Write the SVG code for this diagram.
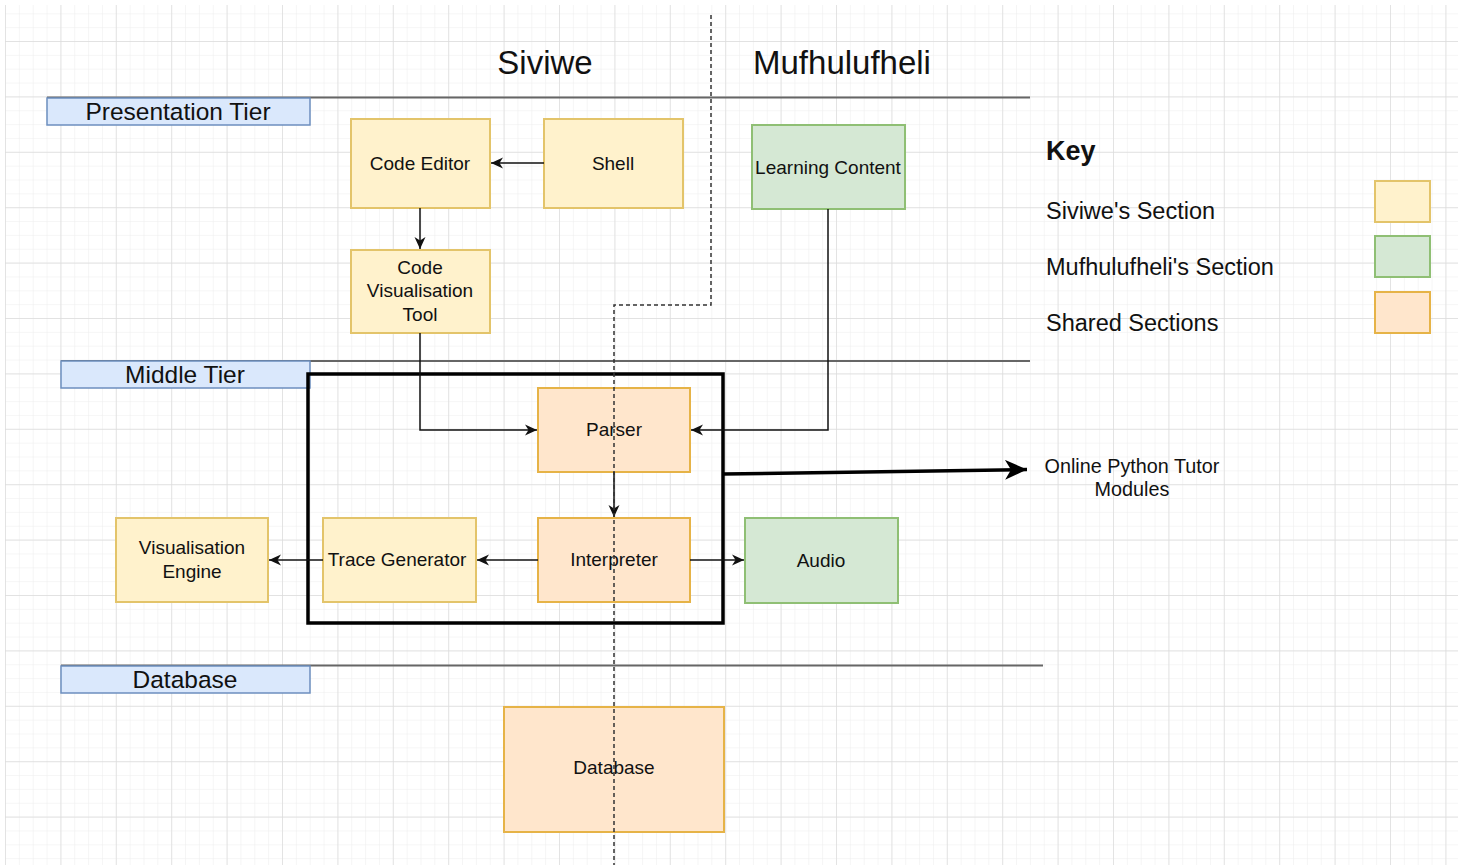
<svg xmlns="http://www.w3.org/2000/svg" width="1461" height="865" viewBox="0 0 1461 865">
<defs>
<pattern id="minor" patternUnits="userSpaceOnUse" x="5" y="41" width="13.85" height="13.85">
<path d="M0,0 V13.85 M0,0 H13.85" fill="none" stroke="#eeeeee" stroke-width="1.2"/>
</pattern>
<pattern id="major" patternUnits="userSpaceOnUse" x="5" y="41" width="55.4" height="55.4">
<path d="M0,0 V55.4 M0,0 H55.4" fill="none" stroke="#dcdcdc" stroke-width="1.4"/>
</pattern>
<marker id="arr" markerUnits="userSpaceOnUse" markerWidth="14" markerHeight="12" refX="12" refY="6" orient="auto">
<path d="M0,0.5 L12,6 L0,11.5 L3.5,6 Z" fill="#111"/>
</marker>
<marker id="big" markerUnits="userSpaceOnUse" markerWidth="24" markerHeight="20" refX="22" refY="10" orient="auto">
<path d="M0,0 L22,10 L0,20 L6,10 Z" fill="#000"/>
</marker>
</defs>
<style>
.t{font-family:"Liberation Sans",Arial,sans-serif;fill:#111;text-anchor:middle}
.n{font-size:19px}
.tier{fill:#dae8fc;stroke:#6c8ebf;stroke-width:1.5}
.tl{font-size:24.5px}
.yel{fill:#fff2cc;stroke:#e3c46a;stroke-width:2}
.grn{fill:#d5e8d4;stroke:#8fbf74;stroke-width:2}
.org{fill:#ffe6cc;stroke:#e6b347;stroke-width:2}
.sep{stroke:#666;stroke-width:2;fill:none}
.c{fill:none;stroke:#111;stroke-width:1.5;marker-end:url(#arr)}
.k{font-family:"Liberation Sans",Arial,sans-serif;fill:#111;font-size:23.5px}
</style>
<rect x="0" y="0" width="1461" height="865" fill="#ffffff"/>
<rect x="5" y="5" width="1453" height="860" fill="url(#minor)"/>
<rect x="5" y="5" width="1453" height="860" fill="url(#major)"/>

<g id="headers">
<text class="t" x="545" y="74" font-size="33">Siviwe</text>
<text class="t" x="842" y="74" font-size="33">Mufhulufheli</text>
</g>

<g id="tier-lines">
<line class="sep" x1="47" y1="97.5" x2="1030" y2="97.5"/>
<line class="sep" x1="61" y1="361" x2="1030" y2="361"/>
<line class="sep" x1="61" y1="665.5" x2="1043" y2="665.5"/>
</g>

<g id="presentation-tier">
<rect class="tier" x="47" y="98" width="263" height="27"/>
<text class="t tl" x="178" y="120">Presentation Tier</text>
</g>
<g id="middle-tier">
<rect class="tier" x="61" y="361" width="249" height="27"/>
<text class="t tl" x="185" y="383">Middle Tier</text>
</g>
<g id="database-tier">
<rect class="tier" x="61" y="666" width="249" height="27"/>
<text class="t tl" x="185" y="688">Database</text>
</g>

<g id="code-editor">
<rect class="yel" x="351" y="119" width="139" height="89"/>
<text class="t n" x="420" y="170">Code Editor</text>
</g>
<g id="shell">
<rect class="yel" x="544" y="119" width="139" height="89"/>
<text class="t n" x="613" y="170">Shell</text>
</g>
<g id="code-visualisation-tool">
<rect class="yel" x="351" y="250" width="139" height="83"/>
<text class="t n" x="420" y="274">Code</text>
<text class="t n" x="420" y="297">Visualisation</text>
<text class="t n" x="420" y="321">Tool</text>
</g>
<g id="learning-content">
<rect class="grn" x="752" y="125" width="153" height="84"/>
<text class="t n" x="828" y="174">Learning Content</text>
</g>

<g id="module-boundary">
<rect x="308" y="374" width="415" height="249" fill="none" stroke="#000" stroke-width="3.5"/>
</g>

<g id="parser">
<rect class="org" x="538" y="388" width="152" height="84"/>
<text class="t n" x="614" y="436">Parser</text>
</g>
<g id="interpreter">
<rect class="org" x="538" y="518" width="152" height="84"/>
<text class="t n" x="614" y="566">Interpreter</text>
</g>
<g id="trace-generator">
<rect class="yel" x="323" y="518" width="153" height="84"/>
<text class="t n" x="397" y="566">Trace Generator</text>
</g>
<g id="visualisation-engine">
<rect class="yel" x="116" y="518" width="152" height="84"/>
<text class="t n" x="192" y="554">Visualisation</text>
<text class="t n" x="192" y="578">Engine</text>
</g>
<g id="audio">
<rect class="grn" x="745" y="518" width="153" height="85"/>
<text class="t n" x="821" y="567">Audio</text>
</g>
<g id="database">
<rect class="org" x="504" y="707" width="220" height="125"/>
<text class="t n" x="614" y="774">Database</text>
</g>

<g id="online-python-tutor">
<text class="t" font-size="19.8" x="1132" y="473">Online Python Tutor</text>
<text class="t" font-size="19.8" x="1132" y="496">Modules</text>
</g>

<g id="connectors">
<path class="c" d="M544,163 H491"/>
<path class="c" d="M420,208 V249"/>
<path class="c" d="M420,333 V430 H537"/>
<path class="c" d="M828,209 V430 H691"/>
<path class="c" d="M614,472 V517"/>
<path class="c" d="M538,560 H477"/>
<path class="c" d="M323,560 H269"/>
<path class="c" d="M690,560 H744"/>
<path d="M723,474 L1027,469.5" fill="none" stroke="#000" stroke-width="3.5" marker-end="url(#big)"/>
</g>

<g id="split-line">
<path d="M711,15 V305 H614 V865" fill="none" stroke="#333" stroke-width="1.5" stroke-dasharray="4 3"/>
</g>

<g id="key">
<text x="1046" y="160" font-family="Liberation Sans,Arial,sans-serif" font-weight="bold" font-size="27" fill="#111">Key</text>
<text class="k" x="1046" y="219">Siviwe's Section</text>
<text class="k" x="1046" y="275">Mufhulufheli's Section</text>
<text class="k" x="1046" y="331">Shared Sections</text>
<rect class="yel" x="1375" y="181" width="55" height="41"/>
<rect class="grn" x="1375" y="236" width="55" height="41"/>
<rect class="org" x="1375" y="292" width="55" height="41"/>
</g>
</svg>
